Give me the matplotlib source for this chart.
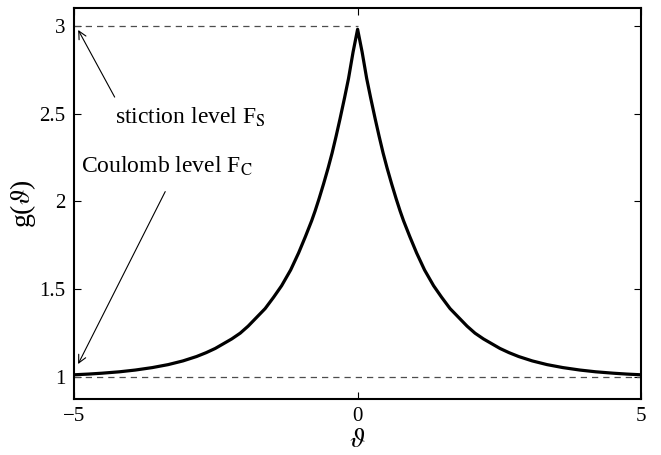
# Curva g(theta) con niveles de Coulomb y de stiction
import matplotlib.pyplot as plt

plt.rcParams['font.family'] = ['Liberation Serif', 'DejaVu Serif']
plt.rcParams['mathtext.fontset'] = 'stix'

# Valores (lado positivo; la curva es simétrica)
theta_pos = [0.0, 0.08, 0.16, 0.23, 0.31, 0.38, 0.45, 0.52, 0.60, 0.68,
             0.75, 0.81, 0.92, 1.04, 1.18, 1.34, 1.48, 1.63, 1.78, 1.93,
             2.07, 2.22, 2.51, 2.67, 2.84, 3.08, 3.34, 3.62, 3.92, 4.20,
             4.51, 4.75, 5.0]
g_pos = [2.98, 2.85, 2.70, 2.59, 2.47, 2.37, 2.275, 2.19, 2.10, 2.015,
         1.945, 1.89, 1.80, 1.707, 1.61, 1.52, 1.455, 1.39, 1.34, 1.29,
         1.25, 1.217, 1.163, 1.139, 1.117, 1.092, 1.071, 1.054, 1.040, 1.030,
         1.022, 1.017, 1.013]

theta = [-t for t in theta_pos[::-1]] + theta_pos[1:]
g = g_pos[::-1] + g_pos[1:]

F_C = 1.0
F_S = 3.0
x_ticks = [-5, 0, 5]
y_ticks = [1, 1.5, 2, 2.5, 3]

fig = plt.figure(figsize=(6.61, 4.55), dpi=100)
ax = fig.add_axes([0.112, 0.123, 0.858, 0.859])

# Niveles de referencia
ax.plot([-5, 0], [F_S, F_S], '--', color='0.3', lw=0.9, dashes=(5, 4))
ax.plot([-5, 5], [F_C, F_C], '--', color='0.3', lw=0.9, dashes=(5, 4))

# Curva principal
ax.plot(theta, g, color='black', lw=2.3, solid_joinstyle='round')

# Anotaciones con flechas
ax.annotate('', xy=(-4.95, 2.99), xytext=(-4.26, 2.58),
            arrowprops=dict(arrowstyle='->', color='black', lw=0.8,
                            mutation_scale=14))
ax.annotate('', xy=(-4.95, 1.06), xytext=(-3.37, 2.07),
            arrowprops=dict(arrowstyle='->', color='black', lw=0.8,
                            mutation_scale=14))
ax.text(-4.28, 2.445, r'stiction level F$_{\mathrm{S}}$', fontsize=17,
        va='baseline', ha='left')
ax.text(-4.88, 2.166, r'Coulomb level F$_{\mathrm{C}}$', fontsize=17,
        va='baseline', ha='left')

ax.set_xlim(-5, 5)
ax.set_ylim(0.875, 3.1)
ax.set_xticks(x_ticks)
ax.set_yticks(y_ticks)
ax.set_xticklabels(['\u22125', '0', '5'])
ax.set_yticklabels(['1', '1.5', '2', '2.5', '3'])
ax.tick_params(direction='in', length=5, width=0.8, labelsize=15,
               top=True, right=True, pad=6)
for s in ax.spines.values():
    s.set_linewidth(1.5)

ax.set_xlabel(r'$\vartheta$', fontsize=20, labelpad=1)
ax.set_ylabel(r'g($\vartheta$)', fontsize=20, labelpad=1)

fig.savefig('out.png', dpi=100)
